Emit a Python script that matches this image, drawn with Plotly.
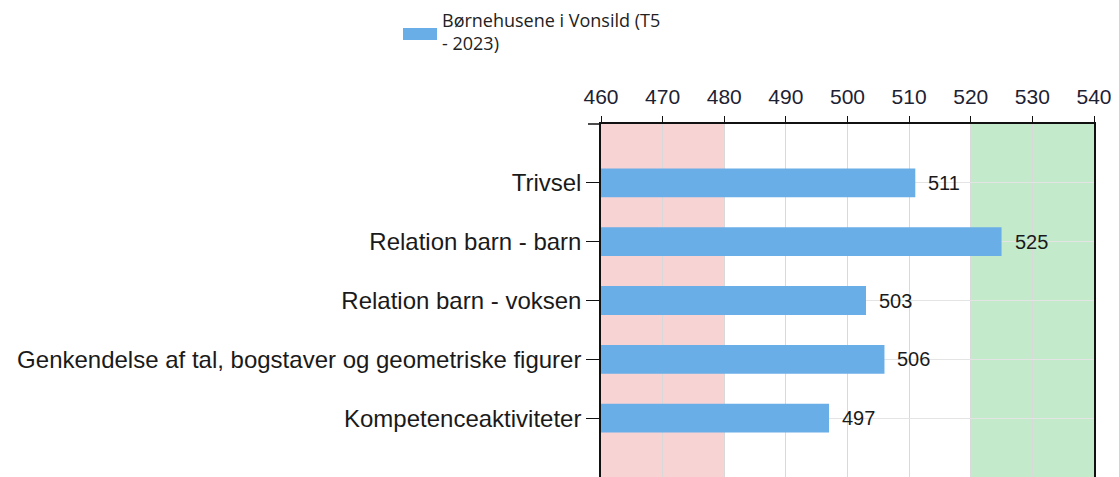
import plotly.graph_objects as go

categories = ["Trivsel", "Relation barn - barn", "Relation barn - voksen",
              "Genkendelse af tal, bogstaver og geometriske figurer", "Kompetenceaktiviteter"]
values = [511, 525, 503, 506, 497]
series_name = "Børnehusene i Vonsild (T5<br>- 2023)"
x_ticks = [460, 470, 480, 490, 500, 510, 520, 530, 540]
low_band = [460, 480]
high_band = [520, 540]

BAR = "#6aaee8"
TXT = "#1a1a1a"
FONT = "Liberation Sans, Arial, sans-serif"

# page body has an 8px margin: figure sits at (8, 8)
OFF = 8
W, H = 1119 - OFF, 477 - OFF
PL, PR, PT, PB = 601, 1094, 124, 477  # plot area in window pixels
pw, ph = PR - PL, PB - PT

fig = go.Figure()
fig.add_trace(go.Bar(
    y=categories, x=values, orientation="h",
    marker=dict(color=BAR, line=dict(width=0)),
    width=0.49, showlegend=False, hoverinfo="skip",
))

for c, v in zip(categories, values):
    fig.add_annotation(x=v, y=c, text=str(v), showarrow=False, xanchor="left",
                       xshift=11, font=dict(family=FONT, size=20, color=TXT))

fig.add_shape(type="rect", xref="x", yref="y domain", x0=low_band[0], x1=low_band[1],
              y0=0, y1=1, fillcolor="#f8d3d4", line=dict(width=0), layer="below")
fig.add_shape(type="rect", xref="x", yref="y domain", x0=high_band[0], x1=high_band[1],
              y0=0, y1=1, fillcolor="#c3ebcb", line=dict(width=0), layer="below")
# axis line stub to the left of the origin
fig.add_shape(type="line", xref="x domain", yref="y domain", x0=-13 / pw, x1=0, y0=1, y1=1,
              line=dict(color="#111", width=1.5))


def px(x):
    return (x - PL) / pw


def py(y):
    return (PB - y) / ph


# legend
fig.add_shape(type="rect", xref="paper", yref="paper", x0=px(403), x1=px(437),
              y0=py(40), y1=py(28), fillcolor=BAR, line=dict(width=0))
fig.add_annotation(xref="paper", yref="paper", x=px(440), y=py(6),
                   xanchor="left", yanchor="top", align="left", showarrow=False,
                   text=series_name,
                   font=dict(family="Open Sans, DejaVu Sans, sans-serif", size=18, color="#222"))

fig.update_xaxes(
    side="top", range=[460, 540], tickvals=x_ticks, ticks="outside", ticklen=6,
    tickcolor="#111", showline=True, linecolor="#111", linewidth=1.5,
    showgrid=True, gridcolor="#d9d9d9", gridwidth=1, zeroline=False,
    tickfont=dict(family=FONT, size=21, color="#1c2233"), ticklabelstandoff=4,
)
fig.update_yaxes(
    type="category", range=[5, -1], ticks="outside", ticklen=13, tickcolor="#111",
    showline=True, linecolor="#111", linewidth=1.5, mirror=True,
    showgrid=True, gridcolor="#e4e4e4", gridwidth=1,
    tickfont=dict(family=FONT, size=24, color=TXT), ticklabelstandoff=0,
)
fig.update_layout(
    width=W, height=H,
    margin=dict(l=PL - OFF, r=1119 - PR, t=PT - OFF, b=0, autoexpand=False),
    paper_bgcolor="white", plot_bgcolor="white",
)
fig.write_html("out.html")
